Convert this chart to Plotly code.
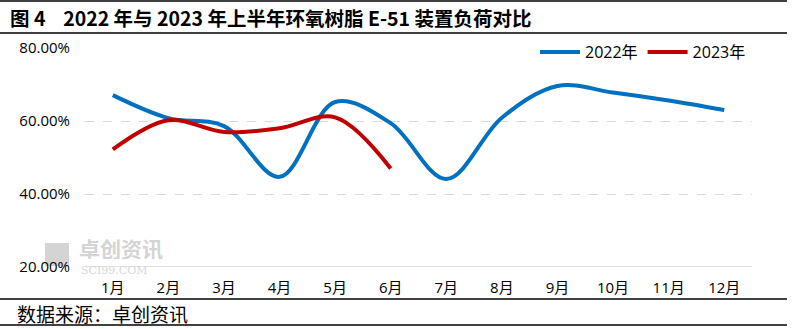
import plotly.graph_objects as go

months = ["1月", "2月", "3月", "4月", "5月", "6月", "7月", "8月", "9月", "10月", "11月", "12月"]
load_2022 = [67.1, 60.8, 58.6, 44.7, 65.2, 59.4, 44.1, 60.9, 69.6, 67.8, 65.6, 63.0]
months_2023 = ["1月", "2月", "3月", "4月", "5月", "6月"]
load_2023 = [52.2, 60.2, 57.0, 58.0, 61.0, 47.0]
y_ticks = [20, 40, 60, 80]
y_tick_labels = ["20.00%", "40.00%", "60.00%", "80.00%"]

W, H = 794, 329
L, R, T, B = 85, 752, 48, 267

def px(x):
    return (x - L) / (R - L)

def py(y):
    return (B - y) / (B - T)

fig = go.Figure()
fig.add_trace(go.Scatter(x=months, y=load_2022, name="2022年", mode="lines",
                         line=dict(color="#0070C0", width=4, shape="spline", smoothing=1)))
fig.add_trace(go.Scatter(x=months_2023, y=load_2023, name="2023年", mode="lines",
                         line=dict(color="#C00000", width=4, shape="spline", smoothing=1)))

font_tick = dict(family="Open Sans, Noto Sans CJK SC", size=15, color="#000000")

fig.update_layout(
    width=W, height=H,
    margin=dict(l=L, r=W - R, t=T, b=H - B),
    paper_bgcolor="white", plot_bgcolor="white",
    showlegend=True,
    legend=dict(orientation="h", x=px(535), y=py(52), xanchor="left", yanchor="middle",
                font=dict(family="Open Sans, Noto Sans CJK SC", size=16, color="#000"),
                bgcolor="rgba(0,0,0,0)", itemwidth=40),
    xaxis=dict(type="category", categoryarray=months, range=[-0.5, 11.5], tickfont=font_tick,
               showgrid=False, showline=False, zeroline=False,
               ticks="", ticklabelstandoff=10, fixedrange=True),
    yaxis=dict(range=[20, 80], tickvals=y_ticks, ticktext=y_tick_labels, tickfont=font_tick,
               showgrid=True, gridcolor="#d9d9d9", griddash="dash", gridwidth=1,
               zeroline=False, showline=False, ticks="", ticklabelstandoff=14),
)

line_shapes = [1, 33, 299, 325]
for yy in line_shapes:
    fig.add_shape(type="line", xref="paper", yref="paper",
                  x0=px(0), x1=px(787), y0=py(yy), y1=py(yy),
                  line=dict(color="#000", width=1.5))

# solid bottom gridline at 20%
fig.add_shape(type="line", xref="paper", yref="y", x0=0, x1=1, y0=20, y1=20,
              line=dict(color="#d9d9d9", width=1.5))

fig.add_annotation(xref="paper", yref="paper", x=px(8), y=py(18), xanchor="left", yanchor="middle",
                   text="<b>图 4    2022 年与 2023 年上半年环氧树脂 E-51 装置负荷对比</b>", showarrow=False,
                   font=dict(family="Noto Sans CJK SC", size=19.5, color="#000"))
fig.add_annotation(xref="paper", yref="paper", x=px(15), y=py(313), xanchor="left", yanchor="middle",
                   text="数据来源：卓创资讯", showarrow=False,
                   font=dict(family="Noto Sans CJK SC", size=19, color="#000"))

# watermark
fig.add_shape(type="rect", xref="paper", yref="paper", x0=px(45), x1=px(69), y0=py(266), y1=py(243),
              fillcolor="#d4d4d4", line=dict(width=0), layer="below")
fig.add_annotation(xref="paper", yref="paper", x=px(77), y=py(248), xanchor="left", yanchor="middle",
                   text="<b>卓创资讯</b>", showarrow=False, height=22,
                   font=dict(family="Noto Sans CJK SC", size=21, color="#d4d4d4"))
fig.add_annotation(xref="paper", yref="paper", x=px(79), y=py(270), xanchor="left", yanchor="middle",
                   text="SCI99.COM", showarrow=False, height=12,
                   font=dict(family="DejaVu Serif", size=11, color="#d8d8d8"))

fig.write_html("out.html")
